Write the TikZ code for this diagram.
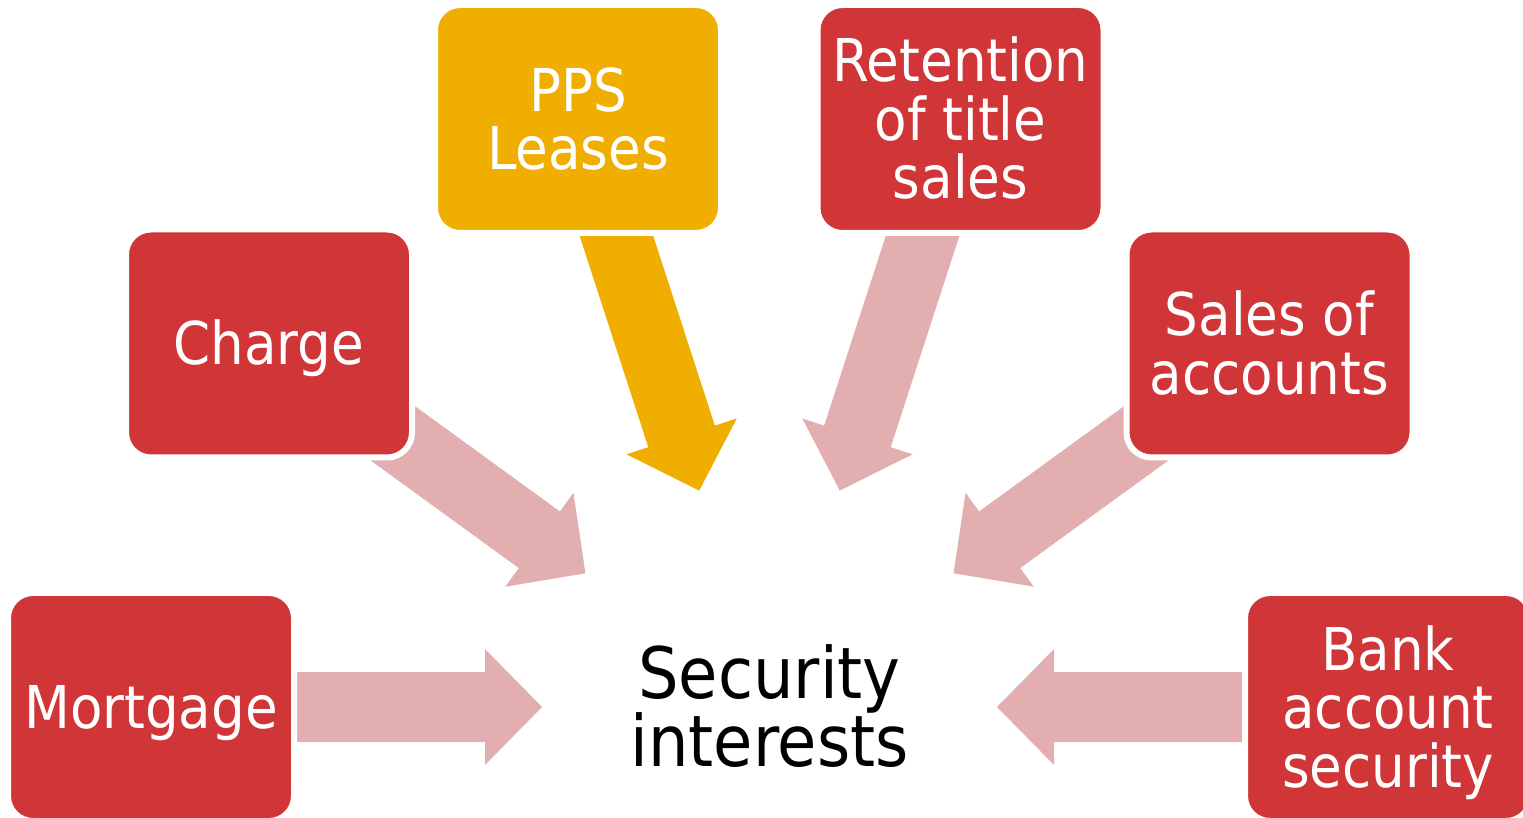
\documentclass[tikz,border=0pt]{standalone}
\usepackage{fontspec}
\setmainfont{DejaVu Sans Condensed}
\definecolor{boxred}{HTML}{D03537}
\definecolor{boxyel}{HTML}{F0AF00}
\definecolor{arrpink}{HTML}{E3AEAF}
\newcommand\mlines[1]{\vbox{\lineskiplimit=-1000pt\halign{\hfil##\hfil\cr#1\crcr}}}
\begin{document}
\begin{tikzpicture}[x=1pt,y=1pt,
  box/.style={draw=white, line width=6pt, rounded corners=25pt,
    minimum width=286pt, minimum height=228pt, inner sep=0pt, text=white,
    font=\fontsize{59}{58.5}\selectfont, text depth=0pt},
  redbox/.style={box, fill=boxred},
  yelbox/.style={box, fill=boxyel},
  one/.style={text height=43pt},
  two/.style={text height=101.5pt},
  three/.style={text height=160pt},
  blockarrow/.style={fill=#1}]
\useasboundingbox (0,0) rectangle (1523,817);
\clip (0,0) rectangle (1523,817);
\coordinate (c) at (769.5,110);
% block arrows pointing to the centre
\foreach \ang/\col in {180/arrpink,144/arrpink,108/boxyel,72/arrpink,36/arrpink,0/arrpink}
  \path[blockarrow=\col, shift={(c)}, rotate=\ang]
    (227.5,0) -- (284.5,58) -- (284.5,35) -- (530,35) -- (530,-35)
    -- (284.5,-35) -- (284.5,-58) -- cycle;
% boxes
\node[yelbox, two]   (pps)  at (578,698)    {\mlines{PPS\cr Leases}};
\node[redbox, three] (ret)  at (960.5,698)  {\mlines{Retention\cr of title\cr sales}};
\node[redbox, one]   (chg)  at (269,473.5)  {\mlines{Charge}};
\node[redbox, two]   (soa)  at (1269.5,473.5) {\mlines{Sales of\cr accounts}};
\node[redbox, one]   (mtg)  at (151,110)    {\mlines{Mortgage}};
\node[redbox, three] (bank) at (1388,110)   {\mlines{Bank\cr account\cr security}};
% centre text
\node[font=\fontsize{71}{68}\selectfont, inner sep=0pt, text height=119.8pt, text depth=0pt]
  (si) at (c) {\mlines{Security\cr interests}};
\end{tikzpicture}
\end{document}
